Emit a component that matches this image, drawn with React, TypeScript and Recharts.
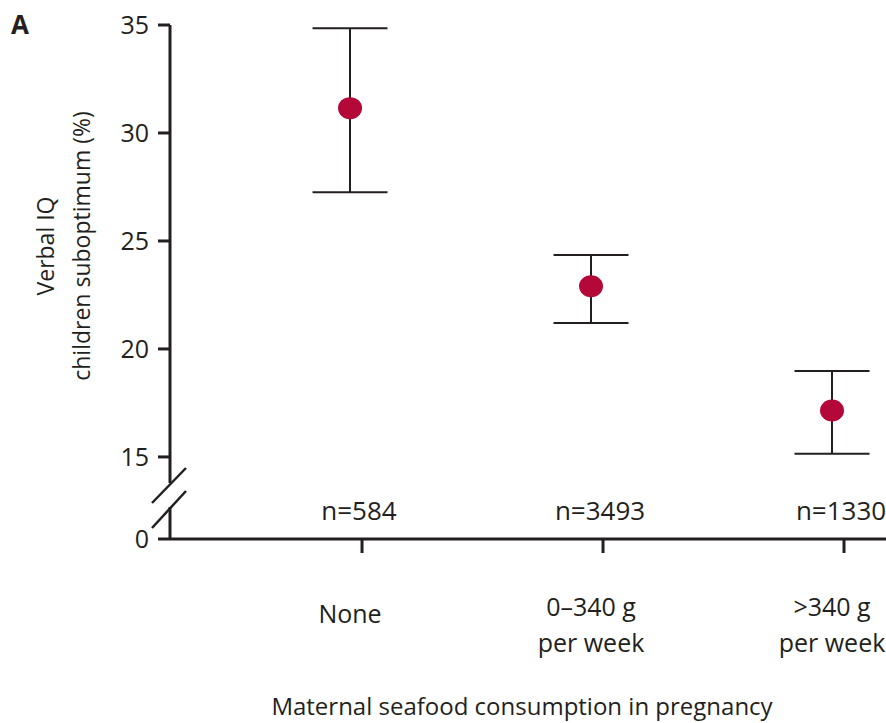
import { ScatterChart, Scatter, XAxis, YAxis, ErrorBar } from 'recharts'

// group labels, sample sizes and values
const categoryLines = [['None'], ['0–340 g', 'per week'], ['>340 g', 'per week']]
const sampleSizes = ['n=584', 'n=3493', 'n=1330']
const pctSuboptimum = [31.15, 22.9, 17.15]
const ciLower = [27.25, 21.2, 15.15]
const ciUpper = [34.85, 24.35, 18.98]

// the "0" tick sits below the axis break
const yTicks = [11.2, 15, 20, 25, 30, 35]
const yTickLabels = ['0', '15', '20', '25', '30', '35']

const INK = '#231f20'
const DOT = '#b30838'
const FONT = '"Open Sans", "Noto Sans", sans-serif'

const data = pctSuboptimum.map((v, i) => ({
  idx: i,
  value: v,
  err: [v - ciLower[i], ciUpper[i] - v],
}))

function ValueTick(props: any) {
  const { x, y, payload, index } = props
  const label = yTickLabels[yTicks.indexOf(payload.value)]
  return (
    <g>
      <line x1={x - 12} x2={x} y1={y} y2={y} stroke={INK} strokeWidth={3} />
      <text x={x - 21} y={y} dy="0.36em" textAnchor="end" fill={INK} fontFamily={FONT} fontSize={25}>
        {label}
      </text>
      {index === 0 && (
        <g>
          <rect x={x - 4} y={y - 56} width={8} height={24} fill="#fff" />
          <line x1={x - 18} y1={y - 36} x2={x + 16} y2={y - 71} stroke={INK} strokeWidth={2.5} />
          <line x1={x - 18} y1={y - 11} x2={x + 16} y2={y - 48} stroke={INK} strokeWidth={2.5} />
        </g>
      )}
    </g>
  )
}

function CategoryTick(props: any) {
  const { x, y, payload } = props
  const i = payload.value as number
  const lines = categoryLines[i]
  const first = lines.length === 1 ? 84 : 77
  return (
    <g fontFamily={FONT} fill={INK}>
      <line x1={x + 12} x2={x + 12} y1={y} y2={y + 14} stroke={INK} strokeWidth={3} />
      <text x={x + 9} y={y - 19} textAnchor="middle" fontSize={26} fill={INK}>
        {sampleSizes[i]}
      </text>
      {lines.map((t, k) => (
        <text key={t} x={x} y={y + first + k * 36} textAnchor="middle" fontSize={25} fill={INK}>
          {t}
        </text>
      ))}
    </g>
  )
}

function ValueLabel(props: any) {
  const { viewBox } = props
  const cy = viewBox.y + 221
  const x1 = viewBox.x + 46
  const x2 = viewBox.x + 82
  return (
    <g fontFamily={FONT} fontSize={23} fill={INK}>
      <text x={x1} y={cy} textAnchor="middle" dy="0.36em" transform={`rotate(-90 ${x1} ${cy})`} fill={INK}>
        Verbal IQ
      </text>
      <text x={x2} y={cy} textAnchor="middle" dy="0.36em" transform={`rotate(-90 ${x2} ${cy})`} fill={INK}>
        children suboptimum (%)
      </text>
    </g>
  )
}

function Dot(props: any) {
  const { cx, cy } = props
  return <ellipse cx={cx} cy={cy} rx={12} ry={11} fill={DOT} />
}

export default function App() {
  return (
    <div style={{ position: 'relative', width: 886, height: 723, background: '#fff' }}>
      <style>{'body{margin:0}'}</style>
      <div
        style={{
          position: 'absolute',
          left: 11,
          top: 6,
          fontFamily: FONT,
          fontWeight: 700,
          fontSize: 26,
          color: INK,
        }}
      >
        A
      </div>
      <ScatterChart width={886} height={723} margin={{ top: 25, right: 0, bottom: 0, left: 0 }}>
        <XAxis
          type="number"
          dataKey="idx"
          domain={[-0.747, 2.224]}
          ticks={[0, 1, 2]}
          height={184}
          tickLine={false}
          tickSize={0}
          tickMargin={0}
          axisLine={{ stroke: INK, strokeWidth: 3 }}
          tick={<CategoryTick />}
          label={{
            value: 'Maternal seafood consumption in pregnancy',
            position: 'insideBottom',
            offset: 8,
            dx: -6,
            fill: INK,
            fontFamily: FONT,
            fontSize: 24,
          }}
        />
        <YAxis
          type="number"
          dataKey="value"
          domain={[11.2, 35]}
          ticks={yTicks}
          width={170}
          tickLine={false}
          tickSize={0}
          tickMargin={0}
          axisLine={{ stroke: INK, strokeWidth: 3 }}
          tick={<ValueTick />}
          label={<ValueLabel />}
        />
        <Scatter data={data} shape={<Dot />} isAnimationActive={false}>
          <ErrorBar dataKey="err" direction="y" width={37.5} stroke={INK} strokeWidth={2} isAnimationActive={false} />
        </Scatter>
      </ScatterChart>
    </div>
  )
}
